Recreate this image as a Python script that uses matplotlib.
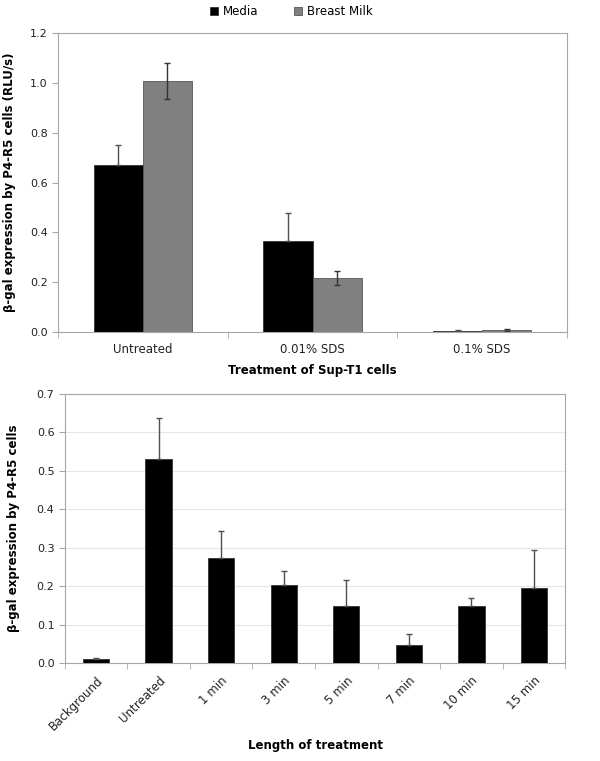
import matplotlib
matplotlib.use("Agg")
import matplotlib.pyplot as plt
import numpy as np

plt.rcParams['font.family'] = ['DejaVu Sans']

# Top chart data
top_categories = ["Untreated", "0.01% SDS", "0.1% SDS"]
media_vals = [0.672, 0.366, 0.005]
media_err = [0.080, 0.113, 0.003]
milk_vals = [1.008, 0.217, 0.008]
milk_err = [0.073, 0.029, 0.003]
top_yticks = [0.0, 0.2, 0.4, 0.6, 0.8, 1.0, 1.2]

# Bottom chart data
bot_categories = ["Background", "Untreated", "1 min", "3 min", "5 min", "7 min", "10 min", "15 min"]
bot_vals = [0.011, 0.530, 0.273, 0.204, 0.149, 0.047, 0.148, 0.194]
bot_err = [0.002, 0.108, 0.070, 0.035, 0.066, 0.028, 0.021, 0.099]
bot_yticks = [0.0, 0.1, 0.2, 0.3, 0.4, 0.5, 0.6, 0.7]

frame_col = "#a6a6a6"
err_col = "#505050"
fig = plt.figure(figsize=(6, 7.61), dpi=100)

# ---- Top chart ----
ax1 = fig.add_axes([0.0967, 0.5637, 0.8483, 0.3929])
x = np.arange(len(top_categories))
w = 0.29
ax1.bar(x - w/2, media_vals, w, color="black", edgecolor="#333333", linewidth=0.6, label="Media")
ax1.bar(x + w/2, milk_vals, w, color="#808080", edgecolor="#555555", linewidth=0.6, label="Breast Milk")
ax1.errorbar(x - w/2, media_vals, yerr=[np.zeros(len(media_err)), media_err], fmt="none", ecolor=err_col,
             elinewidth=1, capsize=2.5, capthick=1)
ax1.errorbar(x + w/2, milk_vals, yerr=milk_err, fmt="none", ecolor="#333333", elinewidth=1, capsize=2.5, capthick=1)
ax1.set_xlim(-0.5, len(top_categories) - 0.5)
ax1.set_ylim(0, 1.2)
ax1.set_yticks(top_yticks)
ax1.set_yticklabels([f"{v:.1f}" for v in top_yticks])
ax1.set_xticks(x)
ax1.set_xticklabels(top_categories)
ax1.set_xticks(np.arange(-0.5, len(top_categories) + 0.5, 1), minor=True)
ax1.tick_params(axis="x", which="major", length=0, pad=8, labelsize=8.5, colors="#222222")
ax1.tick_params(axis="x", which="minor", length=4, color=frame_col, direction="out")
ax1.tick_params(axis="y", length=4, color=frame_col, labelsize=8, labelcolor="#222222")
for s in ax1.spines.values():
    s.set_color(frame_col)
    s.set_linewidth(0.8)
ax1.set_ylabel("β-gal expression by P4-R5 cells (RLU/s)", fontsize=8.5, fontweight="bold", labelpad=10)
ax1.set_xlabel("Treatment of Sup-T1 cells", fontsize=8.5, fontweight="bold", labelpad=6)
fig.legend(handles=ax1.patches[:1] + ax1.patches[3:4], labels=["Media", "Breast Milk"],
           loc="center", bbox_to_anchor=(0.485, 0.985), ncol=2, frameon=False, fontsize=8.5,
           handlelength=0.7, handleheight=0.7, columnspacing=3.0, handletextpad=0.4)

# ---- Bottom chart ----
ax2 = fig.add_axes([0.108, 0.1288, 0.834, 0.3535])
xb = np.arange(len(bot_categories))
wb = 0.42
ax2.bar(xb, bot_vals, wb, color="black", edgecolor="#333333", linewidth=0.6, zorder=3)
ax2.errorbar(xb, bot_vals, yerr=[np.zeros(len(bot_err)), bot_err], fmt="none", ecolor=err_col,
             elinewidth=1, capsize=2.5, capthick=1, zorder=4)
ax2.set_xlim(-0.5, len(bot_categories) - 0.5)
ax2.set_ylim(0, 0.7)
ax2.set_yticks(bot_yticks)
ax2.set_yticklabels([f"{v:.1f}" for v in bot_yticks])
ax2.yaxis.grid(True, color="#e6e6e6", linewidth=0.8, zorder=0)
ax2.set_axisbelow(True)
ax2.set_xticks(xb)
ax2.set_xticklabels(bot_categories, rotation=45, ha="right", rotation_mode="anchor")
ax2.set_xticks(np.arange(-0.5, len(bot_categories) + 0.5, 1), minor=True)
ax2.tick_params(axis="x", which="major", length=0, pad=8, labelsize=8.5, colors="#222222")
ax2.tick_params(axis="x", which="minor", length=4, color=frame_col, direction="out")
ax2.tick_params(axis="y", length=4, color=frame_col, labelsize=8, labelcolor="#222222")
for s in ax2.spines.values():
    s.set_color(frame_col)
    s.set_linewidth(0.8)
ax2.set_ylabel("β-gal expression by P4-R5 cells", fontsize=8.5, fontweight="bold", labelpad=12)
fig.text(0.525, 1 - 746 / 761, "Length of treatment", fontsize=8.5, fontweight="bold",
         ha="center", va="center")

fig.savefig("out.png", dpi=100)
